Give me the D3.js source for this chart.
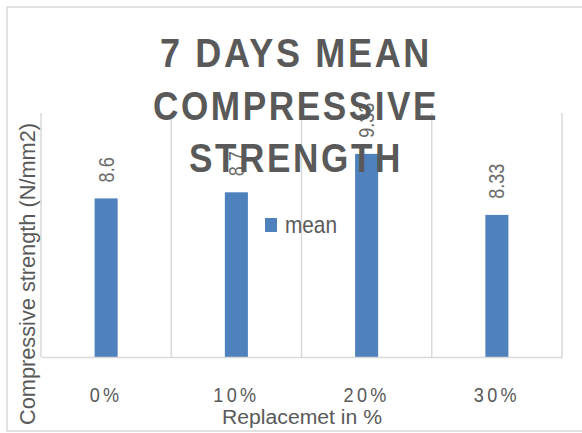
<!DOCTYPE html>
<html><head><meta charset="utf-8">
<script src="https://cdn.jsdelivr.net/npm/d3@7"></script>
<style>html,body{margin:0;padding:0;background:#fff;}svg{display:block;}</style>
</head><body>
<script>
const categories = ["0%", "10%", "20%", "30%"];
const values = [8.6, 8.7, 9.33, 8.33];
const valueLabels = ["8.6", "8.7", "9.33", "8.33"];
const seriesName = "mean";
const titleLines = ["7 DAYS MEAN", "COMPRESSIVE", "STRENGTH"];
const xTitle = "Replacemet in %";
const yTitle = "Compressive strength (N/mm2)";
const yDomain = [6, 10];

const W = 582, H = 433;
const svg = d3.select("body").append("svg").attr("width", W).attr("height", H);
const plot = {l: 41, r: 562, t: 113, b: 357};
const grid = "#d9d9d9", txt = "#595959", bar = "#4f81bd";
const FONT = "'Liberation Sans', Arial, sans-serif";

function condense(sel, k) {
  sel.each(function() {
    const n = this.getComputedTextLength();
    d3.select(this).attr("textLength", n * k).attr("lengthAdjust", "spacingAndGlyphs");
  });
}

// chart border
svg.append("rect").attr("x", 7).attr("y", 7).attr("width", 600).attr("height", 424)
  .attr("fill", "#fff").attr("stroke", grid).attr("stroke-width", 1.5);

const x = d3.scaleBand().domain(categories).range([plot.l, plot.r]).paddingInner(0).paddingOuter(0);
const y = d3.scaleLinear().domain(yDomain).range([plot.b, plot.t]);
const bw = x.bandwidth() * 0.177;

// vertical gridlines at category boundaries
const bounds = categories.map(c => x(c)).concat([x(categories[categories.length-1]) + x.bandwidth()]);
svg.append("g").selectAll("line").data(bounds).join("line")
  .attr("x1", d => d).attr("x2", d => d).attr("y1", plot.t).attr("y2", plot.b)
  .attr("stroke", grid).attr("stroke-width", 1.5);

// bars
svg.append("g").selectAll("rect").data(values).join("rect")
  .attr("x", (d, i) => x(categories[i]) + x.bandwidth() / 2 - bw / 2)
  .attr("width", bw)
  .attr("y", d => y(d)).attr("height", d => y(yDomain[0]) - y(d))
  .attr("fill", bar);

// x axis (baseline + labels)
const xAxis = d3.axisBottom(x).tickSize(0).tickPadding(0);
const gx = svg.append("g").attr("transform", `translate(0,${plot.b})`).call(xAxis);
gx.select(".domain").attr("stroke", grid).attr("stroke-width", 1.5);
gx.selectAll(".tick text")
  .attr("y", 45).attr("dy", 0).attr("dx", 0)
  .attr("fill", txt).attr("font-family", FONT)
  .attr("font-size", 21).attr("letter-spacing", "4px").attr("text-anchor", "middle")
  .call(condense, 0.86);

// data labels (rotated)
svg.append("g").selectAll("text").data(values).join("text")
  .attr("transform", (d, i) => `translate(${x(categories[i]) + x.bandwidth() / 2},${y(d) - 16}) rotate(-90)`)
  .attr("dominant-baseline", "central")
  .attr("text-anchor", "start")
  .attr("fill", "#6b6b6b")
  .attr("font-family", FONT)
  .attr("font-size", 22)
  .text((d, i) => valueLabels[i])
  .call(condense, 0.82);

// legend
svg.append("rect").attr("x", 265).attr("y", 218).attr("width", 12).attr("height", 14).attr("fill", bar);
svg.append("text").attr("x", 285).attr("y", 233).attr("fill", txt)
  .attr("font-family", FONT).attr("font-size", 24)
  .attr("textLength", 52).attr("lengthAdjust", "spacingAndGlyphs").text(seriesName);

// axis titles
svg.append("text").attr("x", 302).attr("y", 424).attr("text-anchor", "middle").attr("fill", txt)
  .attr("font-family", FONT).attr("font-size", 20)
  .attr("textLength", 160).attr("lengthAdjust", "spacingAndGlyphs").text(xTitle);
svg.append("text").attr("transform", "translate(35,274) rotate(-90)").attr("text-anchor", "middle").attr("fill", txt)
  .attr("font-family", FONT).attr("font-size", 22)
  .attr("textLength", 302).attr("lengthAdjust", "spacingAndGlyphs").text(yTitle);

// chart title (drawn on top)
const titleBase = [67, 120, 172];
const titleLen = [272, 286, 214];
svg.append("g").selectAll("text").data(titleLines).join("text")
  .attr("x", 296).attr("y", (d, i) => titleBase[i]).attr("text-anchor", "middle")
  .attr("fill", txt).attr("font-weight", "bold")
  .attr("font-family", FONT)
  .attr("font-size", 41).attr("letter-spacing", "3px")
  .attr("textLength", (d, i) => titleLen[i]).attr("lengthAdjust", "spacingAndGlyphs")
  .text(d => d);
</script>
</body></html>
